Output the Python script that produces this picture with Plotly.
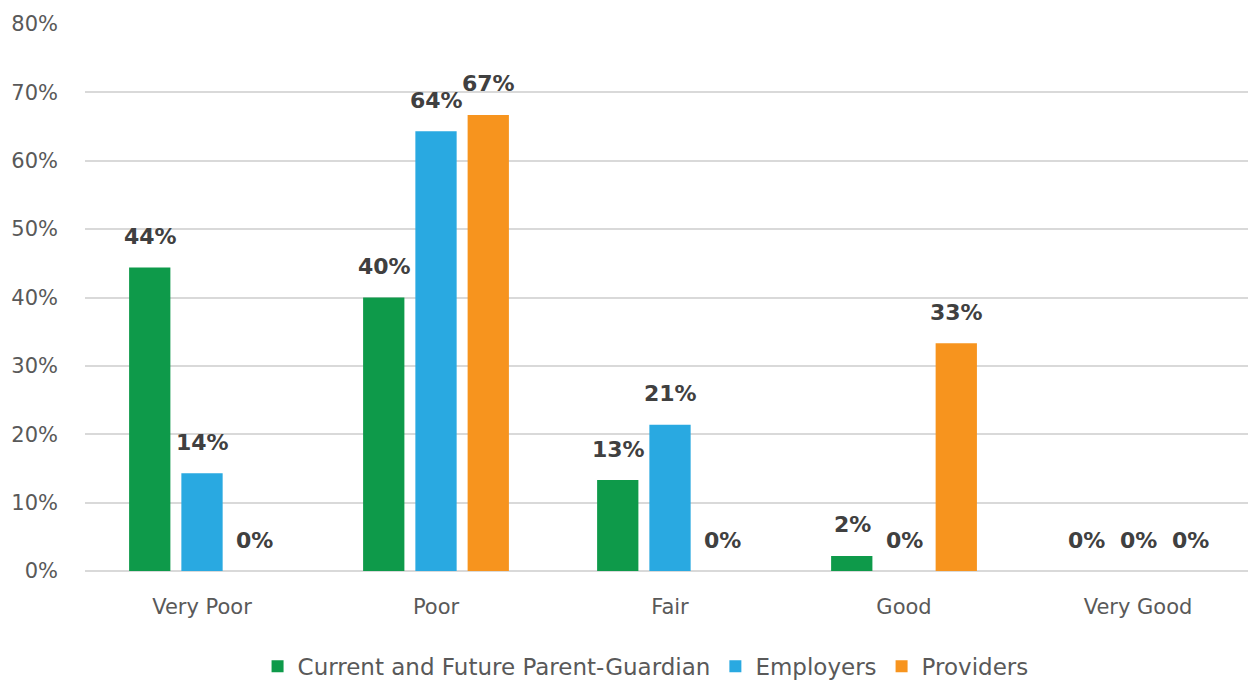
import plotly.graph_objects as go

categories = ["Very Poor", "Poor", "Fair", "Good", "Very Good"]
parent_vals = [44.4, 40.0, 13.3, 2.2, 0.0]
employer_vals = [14.3, 64.3, 21.4, 0.0, 0.0]
provider_vals = [0.0, 66.7, 0.0, 33.3, 0.0]
series_names = ["Current and Future Parent-Guardian", "Employers", "Providers"]
colors = ["#0E9A4A", "#29A9E1", "#F7941E"]

FONT = "DejaVu Sans"
fig = go.Figure()
all_vals = [parent_vals, employer_vals, provider_vals]
for name, vals, col in zip(series_names, all_vals, colors):
    fig.add_trace(go.Bar(x=categories, y=vals, name=name, marker_color=col,
                         marker_line_width=0))

shifts = [-52, 0, 52]
for vals, sh in zip(all_vals, shifts):
    for c, v in zip(categories, vals):
        fig.add_annotation(x=c, y=v, text=f"<b>{round(v):.0f}%</b>", showarrow=False,
                           xshift=sh, yshift=31, yanchor="middle",
                           font=dict(family=FONT, size=22, color="#404040"))

fig.update_layout(
    width=1248, height=682,
    margin=dict(l=85, r=0, t=24, b=111, autoexpand=False),
    paper_bgcolor="white", plot_bgcolor="white",
    barmode="group", bargap=0.33, bargroupgap=0.21,
    font=dict(family=FONT, color="#595959"),
    legend=dict(orientation="h", x=0.482, xanchor="center", y=-0.174, yanchor="middle",
                font=dict(family=FONT, size=23, color="#595959"),
                itemwidth=30, traceorder="normal"),
    showlegend=True,
)
fig.update_yaxes(range=[0, 80], dtick=10, ticksuffix="%", showgrid=True,
                 gridcolor="#D9D9D9", gridwidth=1.5, zeroline=True,
                 zerolinecolor="#D9D9D9", zerolinewidth=1.5,
                 tickfont=dict(family=FONT, size=21, color="#595959"),
                 ticklabelstandoff=26, fixedrange=True)
fig.update_xaxes(range=[-0.5, 4.47], tickfont=dict(family=FONT, size=21, color="#595959"),
                 ticklabelstandoff=21, showline=False)

fig.write_html("out.html")
